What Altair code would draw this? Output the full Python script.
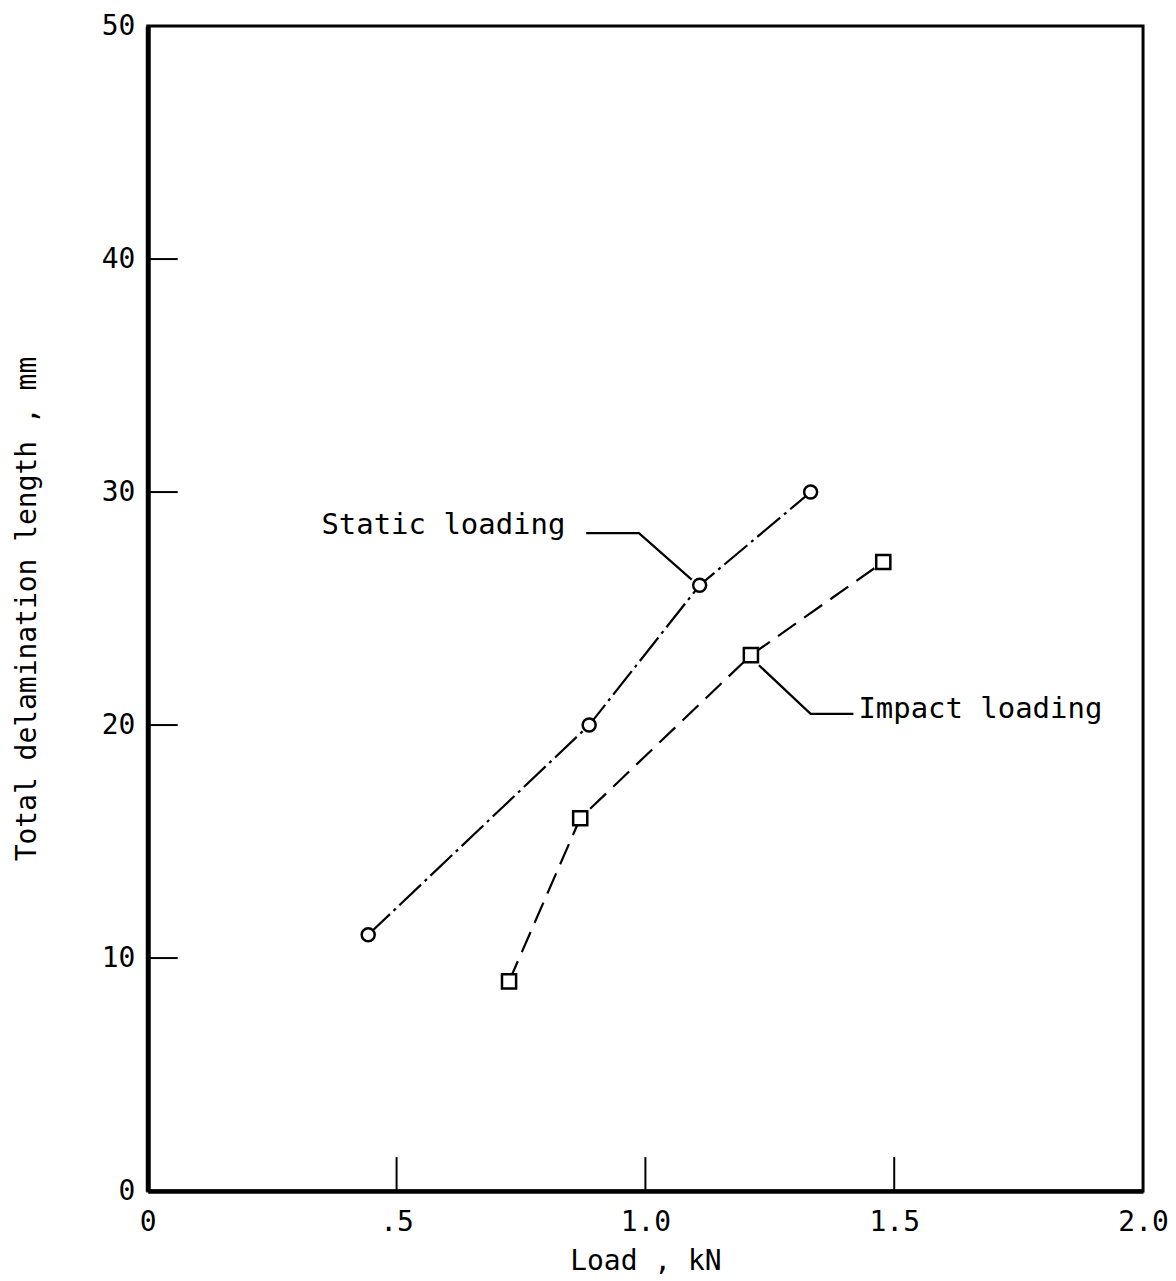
import altair as alt
import pandas as pd

# ---- data ----
static_load = [0.443, 0.887, 1.109, 1.332]
static_len = [11, 20, 26, 30]
impact_load = [0.726, 0.869, 1.212, 1.478]
impact_len = [9, 16, 23, 27]

x_ticks = [0.5, 1.0, 1.5]
y_ticks = [10, 20, 30, 40]

static_leader_x = [0.881, 0.987, 1.093]
static_leader_y = [28.24, 28.24, 26.24]
impact_leader_x = [1.228, 1.332, 1.418]
impact_leader_y = [22.57, 20.48, 20.48]

label_text = ["Static loading", "Impact loading"]
label_x = [0.349, 1.428]
label_y = [28.58, 20.69]

FONT = "DejaVu Sans Mono"
FS = 28
W, H = 997, 1167

static_df = pd.DataFrame({"load": static_load, "len": static_len})
impact_df = pd.DataFrame({"load": impact_load, "len": impact_len})
sl_df = pd.DataFrame({"load": static_leader_x, "len": static_leader_y, "o": [0, 1, 2]})
il_df = pd.DataFrame({"load": impact_leader_x, "len": impact_leader_y, "o": [0, 1, 2]})
lab_df = pd.DataFrame({"load": label_x, "len": label_y, "t": label_text})
xt_df = pd.DataFrame({"load": x_ticks})
yt_df = pd.DataFrame({"len": y_ticks})

xs = alt.Scale(domain=[0, 2], nice=False, zero=False)
ys = alt.Scale(domain=[0, 50], nice=False, zero=False)

x_axis = alt.Axis(
    values=[0, 0.5, 1.0, 1.5, 2.0],
    labelExpr="datum.value == 0 ? '0' : datum.value == 0.5 ? '.5' : format(datum.value, '.1f')",
    ticks=False, grid=False, domain=True, domainColor="black", domainWidth=4.5,
    labelFlush=False,
    labelFont=FONT, labelFontSize=FS, labelColor="black", labelPadding=18,
    titleFont=FONT, titleFontSize=FS, titleFontWeight="normal",
    titleColor="black", titlePadding=11,
)
y_axis = alt.Axis(
    values=[0, 10, 20, 30, 40, 50],
    ticks=False, grid=False, domain=True, domainColor="black", domainWidth=5,
    labelFlush=False,
    labelFont=FONT, labelFontSize=FS, labelColor="black", labelPadding=13,
    titleFont=FONT, titleFontSize=FS,
    titleFontWeight="normal", titleColor="black", titlePadding=60,
)

XT = "Load , kN"
YT = "Total delamination length , mm"


def X():
    return alt.X("load:Q", scale=xs, axis=x_axis, title=XT)


def Y():
    return alt.Y("len:Q", scale=ys, axis=y_axis, title=YT)


static_line = alt.Chart(static_df).mark_line(
    color="black", strokeWidth=2.2, strokeDash=[30, 5, 3, 5]
).encode(x=X(), y=Y())
static_pts = alt.Chart(static_df).mark_point(
    shape="circle", size=170, filled=True, fill="white", stroke="black", strokeWidth=2.5, opacity=1
).encode(x=X(), y=Y())
impact_line = alt.Chart(impact_df).mark_line(
    color="black", strokeWidth=2.2, strokeDash=[22, 10]
).encode(x=X(), y=Y())
impact_pts = alt.Chart(impact_df).mark_point(
    shape="square", size=200, filled=True, fill="white", stroke="black", strokeWidth=2.5, opacity=1
).encode(x=X(), y=Y())
sl_line = alt.Chart(sl_df).mark_line(color="black", strokeWidth=2.2).encode(
    x=X(), y=Y(), order="o:Q"
)
il_line = alt.Chart(il_df).mark_line(color="black", strokeWidth=2.2).encode(
    x=X(), y=Y(), order="o:Q"
)
labels = alt.Chart(lab_df).mark_text(
    font=FONT, fontSize=FS + 1, align="left", baseline="middle", color="black"
).encode(x=X(), y=Y(), text="t:N")
xticks = alt.Chart(xt_df).mark_rule(color="black", strokeWidth=2).encode(
    x=X(),
    y=alt.value(H),
    y2=alt.value(H - 34),
)
yticks = alt.Chart(yt_df).mark_rule(color="black", strokeWidth=2).encode(
    y=Y(),
    x=alt.value(0),
    x2=alt.value(30),
)

chart = alt.layer(
    static_line, impact_line, sl_line, il_line, xticks, yticks,
    static_pts, impact_pts, labels
).properties(
    width=W, height=H,
    autosize=alt.AutoSizeParams(type="none"),
    padding={"left": 140, "top": 17, "right": 25, "bottom": 85},
    background="white",
).configure_view(
    stroke="black", strokeWidth=3
)

chart.save("out.html", embed_options={"renderer": "svg", "actions": False})
